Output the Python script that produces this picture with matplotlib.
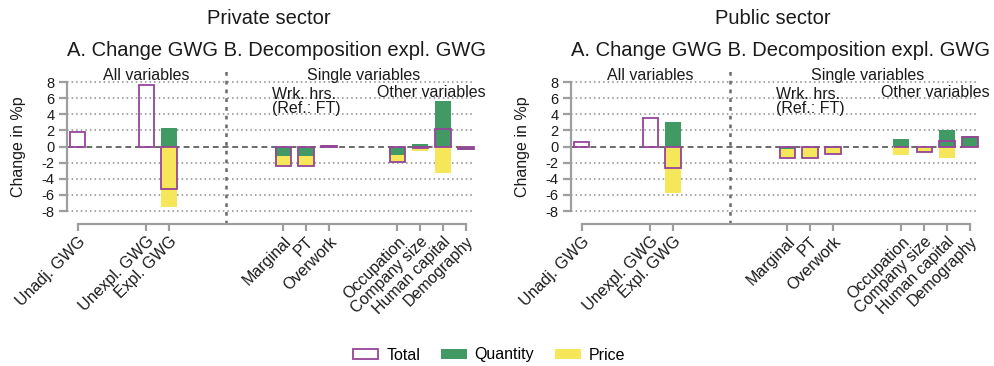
import matplotlib.pyplot as plt
import numpy as np
from matplotlib.patches import Patch

plt.rcParams['font.family'] = ['Liberation Sans', 'DejaVu Sans']

# Catégories (positions sur l'axe x)
categories = ['Unadj. GWG', 'Unexpl. GWG', 'Expl. GWG',
              'Marginal', 'PT', 'Overwork',
              'Occupation', 'Company size', 'Human capital', 'Demography']
positions = [0, 3, 4, 9, 10, 11, 14, 15, 16, 17]

# Secteur privé (points de pourcentage)
private_total = [1.8, 7.6, -5.2, -2.4, -2.4, 0.1, -1.95, -0.15, 2.2, -0.33]
private_quantity = [0, 0, 2.3, -1.2, -1.2, 0.2, -1.0, 0.33, 5.7, -0.45]
private_price = [0, 0, -7.45, -1.25, -1.2, -0.05, -0.95, -0.5, -3.3, 0.12]

# Secteur public
public_total = [0.6, 3.5, -2.65, -1.4, -1.45, -0.9, -0.05, -0.72, 0.64, 1.25]
public_quantity = [0, 0, 3.1, -0.3, -0.2, -0.2, 0.95, -0.1, 2.07, 1.37]
public_price = [0, 0, -5.7, -1.1, -1.25, -0.7, -1.02, -0.62, -1.36, -0.12]

# Couleurs
green = '#419a64'
yellow = '#f6e65a'
purple = '#96449a'
axis_gray = '#9e9e9e'
text_col = '#1a1a1a'

fig = plt.figure(figsize=(9.95, 3.66), dpi=100)


def draw_panel(left_px, title, total, quantity, price):
    ax = fig.add_axes([left_px / 995, (366 - 224) / 366, 408 / 995, 154 / 366])
    x = np.array(positions, dtype=float)
    q = np.array(quantity)
    p = np.array(price)
    t = np.array(total)
    w = 0.7

    # Barres empilées : le prix s'empile sur la quantité si même signe
    p_bottom = np.where(np.sign(p) == np.sign(q), q, 0.0)
    ax.bar(x, q, width=w, color=green, zorder=2, linewidth=0)
    ax.bar(x, p, width=w, bottom=p_bottom, color=yellow, zorder=2, linewidth=0)
    ax.bar(x, t, width=w * 0.96, facecolor='none', edgecolor=purple,
           linewidth=1.3, zorder=3)

    ax.set_xlim(-0.47, 17.4)
    ax.set_ylim(-9.6, 9.5)

    # Grille pointillée
    for yv in range(-8, 9, 2):
        if yv == 0:
            ax.axhline(0, color='#6a6a6a', linestyle=(0, (3, 2)), linewidth=1.4, zorder=1)
        else:
            ax.axhline(yv, color='#8a8a8a', linestyle=(0, (1, 2)), linewidth=1.1, zorder=1)
    ax.axvline(6.5, color='#6a6a6a', linestyle=(0, (1.5, 2)), linewidth=1.8, zorder=1)

    for s in ['top', 'right']:
        ax.spines[s].set_visible(False)
    for s in ['left', 'bottom']:
        ax.spines[s].set_color(axis_gray)
        ax.spines[s].set_linewidth(1.6)
    ax.spines['left'].set_bounds(-8, 8)
    ax.spines['bottom'].set_bounds(0, 17)

    ax.set_yticks(range(-8, 9, 2))
    ax.set_yticklabels([str(v) for v in range(-8, 9, 2)], fontsize=10.5, color=text_col)
    ax.set_xticks(positions)
    ax.set_xticklabels(categories, rotation=45, ha='right', va='top',
                       rotation_mode='anchor', fontsize=11.5, color=text_col)
    ax.tick_params(axis='x', colors=axis_gray, width=1.6, length=5, pad=2,
                   labelcolor=text_col)
    ax.tick_params(axis='y', colors=axis_gray, width=1.6, length=6, pad=3,
                   labelcolor=text_col)
    ax.set_ylabel('Change in %p', fontsize=11.5, color=text_col, labelpad=11)

    # Annotations
    ax.text(3.0, 8.8, 'All variables', ha='center', va='center', fontsize=11.5, color=text_col)
    ax.text(12.5, 8.8, 'Single variables', ha='center', va='center', fontsize=11.5, color=text_col)
    ax.text(10.0, 7.4, 'Wrk. hrs.\n(Ref.: FT)', ha='center', va='top',
            multialignment='left', fontsize=11.5, color=text_col, linespacing=0.95)
    ax.text(15.5, 6.7, 'Other variables', ha='center', va='center', fontsize=11.5,
            color=text_col, clip_on=False)

    cx = left_px + 204
    fig.text((cx - 2) / 995, 1 - 18 / 366, title, ha='center', va='center',
             fontsize=14.5, color=text_col)
    fig.text((cx + 6) / 995, 1 - 50 / 366, 'A. Change GWG B. Decomposition expl. GWG',
             ha='center', va='center', fontsize=14.5, color=text_col)
    return ax


draw_panel(67, 'Private sector', private_total, private_quantity, private_price)
draw_panel(571, 'Public sector', public_total, public_quantity, public_price)

handles = [Patch(facecolor='white', edgecolor=purple, linewidth=1.3, label='Total'),
           Patch(facecolor=green, label='Quantity'),
           Patch(facecolor=yellow, label='Price')]
fig.legend(handles=handles, loc='center', bbox_to_anchor=(489 / 995, 1 - 355 / 366),
           ncol=3, frameon=False, fontsize=11.5, handlelength=1.6, handleheight=0.6,
           handletextpad=0.5, columnspacing=1.3)

fig.savefig('out.png', dpi=100)
